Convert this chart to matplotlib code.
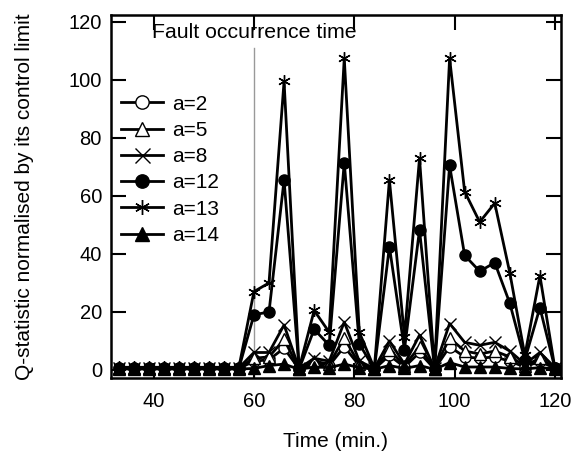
import numpy as np
import matplotlib
matplotlib.use("Agg")
import matplotlib.pyplot as plt

plt.rcParams['font.family'] = ['Liberation Sans', 'DejaVu Sans']

time = [33, 36, 39, 42, 45, 48, 51, 54, 57, 60, 63, 66, 69, 72, 75, 78, 81, 84, 87, 90,
        93, 96, 99, 102, 105, 108, 111, 114, 117, 120]

a2 = [0.5, 0.5, 0.5, 0.5, 0.5, 0.5, 0.5, 0.5, 0.5,
      3, 3.5, 7.5, 0.3, 2, 1.5, 8, 1.5, 0.3, 5, 1, 6, 0.3, 8, 4.5, 4, 4.5, 3, 1, 3, 0.5]
a5 = [0.6, 0.6, 0.6, 0.6, 0.6, 0.6, 0.6, 0.6, 0.6,
      4, 4.5, 10.5, 0.4, 3, 2, 11, 2, 0.4, 7, 1.5, 8, 0.4, 11, 6.5, 5.5, 6.5, 4.5, 1.5, 4, 0.6]
a8 = [0.7, 0.7, 0.7, 0.7, 0.7, 0.7, 0.7, 0.7, 0.7,
      6, 6, 15.5, 0.5, 4, 3, 16.5, 3, 0.5, 10, 2, 12, 0.5, 16, 9.5, 8.5, 9.5, 6.5, 2, 6, 0.8]
a12 = [0.6, 0.6, 0.6, 0.6, 0.6, 0.6, 0.6, 0.6, 0.6,
       19, 20, 65.5, 0.3, 14, 8.5, 71.5, 9, 0.3, 42.5, 7, 48.3, 0.3, 70.5, 39.5, 34, 37, 23, 3.5, 21.5, 0.5]
a13 = [0.9, 0.9, 0.9, 0.9, 0.9, 0.9, 0.9, 0.9, 0.9,
       27, 30, 99.5, 0.5, 20.5, 13, 107.5, 13, 0.5, 65.5, 11.5, 73, 0.5, 107.5, 61.5, 51, 57.5, 33.5, 5, 32.5, 0.5]
a14 = [0.3, 0.3, 0.3, 0.3, 0.3, 0.3, 0.3, 0.3, 0.3,
       0.5, 1.5, 2, 0.2, 1, 0.8, 2, 0.8, 0.2, 1.5, 0.5, 1.5, 0.2, 2.5, 1, 1, 1, 0.5, 0.3, 0.8, 0.3]

fault_time = 60
xticks = [40, 60, 80, 100, 120]
yticks = [0, 20, 40, 60, 80, 100, 120]

fig = plt.figure(figsize=(5.73, 4.55), dpi=100)
ax = fig.add_axes([0.1937, 0.1692, 0.7853, 0.7978])

lw = 2.0
series = [
    (a2, dict(marker='o', mfc='white', mec='black', ms=8, mew=1.0), 'a=2'),
    (a5, dict(marker='^', mfc='white', mec='black', ms=8, mew=1.0), 'a=5'),
    (a8, dict(marker='x', mfc='none', mec='black', ms=9, mew=1.0), 'a=8'),
    (a12, dict(marker='o', mfc='black', mec='black', ms=8, mew=1.0), 'a=12'),
    (a13, dict(marker=(6, 2, 0), mfc='none', mec='black', ms=9, mew=1.0), 'a=13'),
    (a14, dict(marker='^', mfc='black', mec='black', ms=8, mew=1.0), 'a=14'),
]
for vals, mk, lab in series:
    ax.plot(time, vals, color='black', lw=lw, label=lab, **mk)

ax.plot([fault_time, fault_time], [-2.8, 111], color='#999999', lw=1.0, zorder=0)
ax.text(39.7, 116.5, 'Fault occurrence time', fontsize=15.3, va='center', ha='left')

ax.set_xlim(31.5, 121.2)
ax.set_ylim(-2.8, 122.4)
ax.set_xticks(xticks)
ax.set_yticks(yticks)
ax.tick_params(direction='in', length=11, width=1.5, top=True, right=True, labelsize=14.5)
ax.tick_params(axis='x', pad=10)
ax.tick_params(axis='y', pad=6.5)
for s in ax.spines.values():
    s.set_linewidth(1.8)

ax.set_xlabel('Time (min.)', fontsize=15, labelpad=15)
ax.set_ylabel('Q-statistic normalised by its control limit', fontsize=15, labelpad=25)

ax.legend(loc='upper left', bbox_to_anchor=(-0.01, 0.821), frameon=False, fontsize=15,
          handlelength=2.0, handletextpad=0.43, labelspacing=0.35, borderaxespad=0.3,
          markerscale=1.2)

fig.savefig('out.png', dpi=100)
